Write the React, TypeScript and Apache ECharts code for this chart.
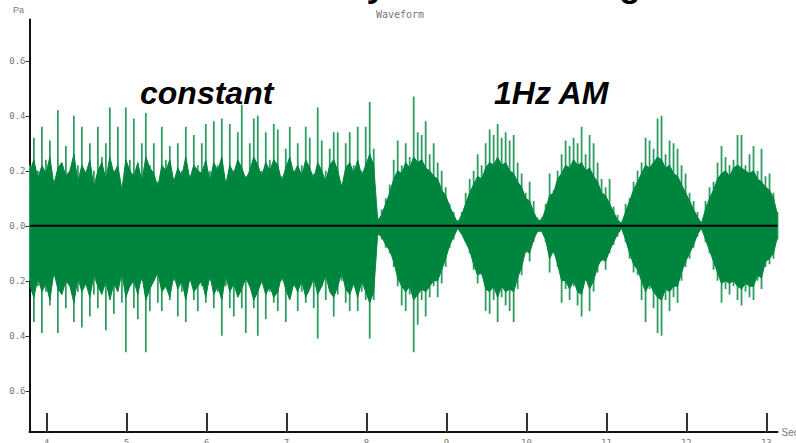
import React, { useEffect, useRef } from "react";
import * as echarts from "echarts";

const sampleStart = 3.79;
const sampleStep = 0.05;

// constant-level noise segment (3.79 s – 8.14 s): spike peaks
const constUpper = [
  0.22, 0.32, 0.2, 0.36, 0.24, 0.31, 0.14, 0.42, 0.2, 0.29,
  0.18, 0.4, 0.22, 0.36, 0.15, 0.3, 0.2, 0.36, 0.25, 0.3,
  0.43, 0.2, 0.36, 0.12, 0.43, 0.24, 0.39, 0.18, 0.3, 0.41,
  0.22, 0.3, 0.16, 0.36, 0.24, 0.29, 0.14, 0.3, 0.2, 0.36,
  0.17, 0.33, 0.22, 0.3, 0.37, 0.2, 0.38, 0.22, 0.39, 0.16,
  0.37, 0.2, 0.34, 0.44, 0.18, 0.3, 0.39, 0.4, 0.2, 0.34,
  0.24, 0.37, 0.35, 0.18, 0.28, 0.36, 0.2, 0.3, 0.22, 0.36,
  0.32, 0.19, 0.43, 0.31, 0.2, 0.28, 0.34, 0.34, 0.15, 0.3,
  0.34, 0.22, 0.36, 0.2, 0.36, 0.45, 0.28, 0.02,
];
const constLower = [
  -0.2, -0.35, -0.22, -0.39, -0.24, -0.29, -0.18, -0.39, -0.22, -0.3,
  -0.2, -0.35, -0.24, -0.37, -0.2, -0.33, -0.25, -0.3, -0.2, -0.38,
  -0.23, -0.32, -0.2, -0.28, -0.46, -0.22, -0.3, -0.34, -0.2, -0.46,
  -0.31, -0.2, -0.28, -0.31, -0.22, -0.27, -0.2, -0.33, -0.24, -0.35,
  -0.2, -0.27, -0.31, -0.22, -0.28, -0.2, -0.3, -0.24, -0.4, -0.22,
  -0.3, -0.33, -0.2, -0.3, -0.39, -0.22, -0.3, -0.4, -0.2, -0.34,
  -0.24, -0.28, -0.31, -0.2, -0.35, -0.25, -0.22, -0.31, -0.24, -0.28,
  -0.2, -0.3, -0.41, -0.22, -0.27, -0.2, -0.33, -0.25, -0.2, -0.28,
  -0.31, -0.2, -0.31, -0.24, -0.27, -0.41, -0.27, -0.03,
];
// constant segment: top / bottom of the solid core
const constCoreUpper = [
  0.2, 0.24, 0.17, 0.22, 0.19, 0.25, 0.15, 0.21, 0.23, 0.18,
  0.2, 0.26, 0.16, 0.22, 0.19, 0.24, 0.14, 0.2, 0.23, 0.17,
  0.25, 0.19, 0.22, 0.13, 0.24, 0.2, 0.18, 0.23, 0.16, 0.25,
  0.21, 0.19, 0.14, 0.22, 0.2, 0.24, 0.16, 0.21, 0.18, 0.25,
  0.17, 0.22, 0.2, 0.19, 0.24, 0.16, 0.23, 0.2, 0.25, 0.15,
  0.22, 0.19, 0.24, 0.21, 0.17, 0.2, 0.25, 0.22, 0.18, 0.23,
  0.2, 0.24, 0.22, 0.16, 0.21, 0.25, 0.19, 0.22, 0.18, 0.24,
  0.21, 0.17, 0.23, 0.2, 0.16, 0.22, 0.24, 0.2, 0.14, 0.21,
  0.23, 0.19, 0.24, 0.18, 0.22, 0.26, 0.22, 0.02,
];
const constCoreLower = [
  -0.22, -0.26, -0.19, -0.24, -0.21, -0.27, -0.17, -0.23, -0.25, -0.2,
  -0.22, -0.28, -0.19, -0.24, -0.21, -0.26, -0.18, -0.22, -0.25, -0.2,
  -0.27, -0.21, -0.24, -0.17, -0.26, -0.22, -0.2, -0.25, -0.18, -0.27,
  -0.23, -0.2, -0.17, -0.24, -0.22, -0.26, -0.18, -0.23, -0.2, -0.27,
  -0.19, -0.24, -0.22, -0.2, -0.26, -0.18, -0.25, -0.22, -0.27, -0.18,
  -0.24, -0.21, -0.26, -0.23, -0.19, -0.22, -0.27, -0.24, -0.2, -0.25,
  -0.22, -0.26, -0.24, -0.18, -0.23, -0.27, -0.21, -0.24, -0.2, -0.26,
  -0.23, -0.19, -0.25, -0.22, -0.18, -0.24, -0.26, -0.22, -0.17, -0.23,
  -0.25, -0.21, -0.26, -0.2, -0.24, -0.28, -0.24, -0.03,
];

// 1 Hz amplitude-modulated segment (8.19 s – 13.14 s): spike peaks
const amUpper = [
  0.06, 0.1, 0.15, 0.24, 0.31, 0.22, 0.3, 0.25, 0.47, 0.34,
  0.33, 0.38, 0.26, 0.3, 0.23, 0.2, 0.14, 0.08, 0.05, 0.02,
  0.05, 0.12, 0.17, 0.2, 0.26, 0.22, 0.3, 0.35, 0.33, 0.37,
  0.32, 0.34, 0.31, 0.33, 0.23, 0.19, 0.12, 0.16, 0.09, 0.03,
  0.03, 0.08, 0.19, 0.13, 0.2, 0.26, 0.31, 0.29, 0.32, 0.3,
  0.36, 0.26, 0.33, 0.3, 0.23, 0.17, 0.14, 0.17, 0.07, 0.04,
  0.01, 0.08, 0.1, 0.16, 0.2, 0.23, 0.32, 0.31, 0.28, 0.39,
  0.4, 0.26, 0.31, 0.3, 0.28, 0.22, 0.19, 0.12, 0.09, 0.05,
  0.01, 0.09, 0.14, 0.16, 0.23, 0.29, 0.25, 0.22, 0.24, 0.33,
  0.33, 0.22, 0.26, 0.29, 0.2, 0.28, 0.18, 0.19, 0.12, 0.05,
];
const amLower = [
  -0.05, -0.08, -0.1, -0.15, -0.22, -0.29, -0.31, -0.25, -0.46, -0.36,
  -0.27, -0.33, -0.26, -0.22, -0.26, -0.21, -0.15, -0.08, -0.05, -0.01,
  -0.03, -0.06, -0.1, -0.16, -0.21, -0.18, -0.31, -0.32, -0.27, -0.35,
  -0.26, -0.29, -0.31, -0.35, -0.23, -0.18, -0.1, -0.13, -0.06, -0.02,
  -0.02, -0.06, -0.17, -0.1, -0.15, -0.28, -0.23, -0.27, -0.22, -0.29,
  -0.33, -0.2, -0.31, -0.24, -0.17, -0.13, -0.16, -0.1, -0.07, -0.04,
  -0.01, -0.06, -0.12, -0.17, -0.18, -0.27, -0.35, -0.23, -0.3, -0.39,
  -0.4, -0.27, -0.31, -0.26, -0.28, -0.2, -0.15, -0.12, -0.08, -0.04,
  -0.01, -0.06, -0.1, -0.16, -0.2, -0.28, -0.23, -0.25, -0.22, -0.27,
  -0.29, -0.24, -0.26, -0.27, -0.2, -0.23, -0.15, -0.14, -0.12, -0.05,
];
// AM segment: top / bottom of the solid core
const amCoreUpper = [
  0.04, 0.08, 0.12, 0.17, 0.2, 0.19, 0.23, 0.21, 0.25, 0.23,
  0.24, 0.21, 0.2, 0.18, 0.17, 0.13, 0.11, 0.07, 0.04, 0.01,
  0.04, 0.08, 0.12, 0.15, 0.18, 0.17, 0.21, 0.23, 0.22, 0.25,
  0.22, 0.23, 0.2, 0.19, 0.16, 0.14, 0.1, 0.09, 0.05, 0.02,
  0.02, 0.06, 0.11, 0.12, 0.17, 0.19, 0.22, 0.21, 0.24, 0.22,
  0.23, 0.2, 0.21, 0.18, 0.16, 0.12, 0.11, 0.08, 0.05, 0.02,
  0.01, 0.05, 0.09, 0.13, 0.16, 0.19, 0.22, 0.21, 0.23, 0.25,
  0.24, 0.21, 0.22, 0.19, 0.18, 0.15, 0.12, 0.09, 0.06, 0.03,
  0.01, 0.06, 0.1, 0.13, 0.17, 0.19, 0.2, 0.18, 0.21, 0.22,
  0.21, 0.2, 0.19, 0.2, 0.17, 0.16, 0.14, 0.13, 0.1, 0.04,
];
const amCoreLower = [
  -0.04, -0.07, -0.09, -0.13, -0.19, -0.22, -0.24, -0.22, -0.27, -0.25,
  -0.23, -0.24, -0.22, -0.2, -0.2, -0.16, -0.12, -0.07, -0.04, -0.01,
  -0.03, -0.06, -0.09, -0.14, -0.18, -0.17, -0.23, -0.24, -0.22, -0.26,
  -0.22, -0.24, -0.23, -0.24, -0.19, -0.15, -0.09, -0.1, -0.05, -0.02,
  -0.02, -0.05, -0.12, -0.09, -0.14, -0.2, -0.2, -0.23, -0.2, -0.24,
  -0.25, -0.19, -0.23, -0.2, -0.15, -0.12, -0.13, -0.09, -0.06, -0.03,
  -0.01, -0.05, -0.1, -0.14, -0.16, -0.2, -0.24, -0.21, -0.24, -0.26,
  -0.27, -0.23, -0.24, -0.22, -0.22, -0.17, -0.13, -0.1, -0.07, -0.03,
  -0.01, -0.05, -0.09, -0.13, -0.17, -0.21, -0.2, -0.21, -0.2, -0.22,
  -0.23, -0.21, -0.22, -0.22, -0.18, -0.19, -0.13, -0.12, -0.1, -0.04,
];

const xTicks = [4, 5, 6, 7, 8, 9, 10, 11, 12, 13];
const yTicks = [-0.6, -0.4, -0.2, 0, 0.2, 0.4, 0.6];
const xRange = [3.785, 13.14];
const yRange = [-0.75, 0.75];
const zeroLine = [
  [3.79, 0],
  [13.14, 0],
];

const annotations = ["constant", "1Hz AM"];
const titleText = "Noise Stimuli: Steady vs. Modulating";
const plotTitle = "Waveform";
const yUnit = "Pa";
const xUnit = "Sec";

const GREEN = "#00853f";
const SPIKE = "#2e9d62";
const LABEL = "#777777";
const MONO = "'DejaVu Sans Mono', monospace";
const SANS = "'Liberation Sans', Arial, sans-serif";

export default function App() {
  const ref = useRef<HTMLDivElement>(null);

  useEffect(() => {
    document.body.style.margin = "0";
    if (!ref.current) return;
    const chart = echarts.init(ref.current, null, { renderer: "svg" });

    const spikeUpper = constUpper.concat(amUpper);
    const spikeLower = constLower.concat(amLower);
    const coreUpper = constCoreUpper.concat(amCoreUpper);
    const coreLower = constCoreLower.concat(amCoreLower);
    const times = spikeUpper.map((_, i) => +(sampleStart + i * sampleStep).toFixed(3));

    const spikeSeries = (vals: number[]) => ({
      type: "bar",
      data: times.map((t, i) => [t, vals[i]]),
      barWidth: 1.8,
      barGap: "-100%",
      silent: true,
      itemStyle: { color: SPIKE },
      z: 1,
    });
    const coreSeries = (vals: number[]) => ({
      type: "line",
      data: times.map((t, i) => [t, vals[i]]),
      symbol: "none",
      silent: true,
      lineStyle: { color: GREEN, width: 1 },
      areaStyle: { color: GREEN, opacity: 1, origin: 0 },
      z: 2,
    });

    chart.setOption({
      animation: false,
      backgroundColor: "#ffffff",
      grid: {
        left: 29.5,
        top: 19.5,
        width: 748,
        height: 412.5,
        containLabel: false,
        outerBoundsMode: "none",
      },
      xAxis: {
        type: "value",
        min: xRange[0],
        max: xRange[1],
        name: xUnit,
        nameLocation: "end",
        nameGap: 4,
        nameTextStyle: { color: LABEL, fontSize: 10, fontFamily: SANS, verticalAlign: "middle" },
        axisLine: { show: true, onZero: false, lineStyle: { color: "#111", width: 2 } },
        axisTick: {
          show: true,
          inside: true,
          length: 19,
          customValues: xTicks,
          lineStyle: { color: "#333", width: 2 },
        },
        axisLabel: {
          customValues: xTicks,
          color: LABEL,
          fontSize: 9,
          fontFamily: MONO,
          margin: 6,
        },
        splitLine: { show: false },
      },
      yAxis: {
        type: "value",
        min: yRange[0],
        max: yRange[1],
        axisLine: { show: true, onZero: false, lineStyle: { color: "#111", width: 2 } },
        axisTick: {
          show: true,
          inside: false,
          length: 4,
          customValues: yTicks,
          lineStyle: { color: "#333", width: 1 },
        },
        axisLabel: {
          customValues: yTicks,
          color: LABEL,
          fontSize: 9,
          fontFamily: MONO,
          margin: 4,
          formatter: (v: number) => Math.abs(v).toFixed(1),
        },
        splitLine: { show: false },
      },
      series: [
        spikeSeries(spikeUpper),
        spikeSeries(spikeLower),
        coreSeries(coreUpper),
        coreSeries(coreLower),
        {
          type: "line",
          data: zeroLine,
          symbol: "none",
          silent: true,
          lineStyle: { color: "#000", width: 2 },
          z: 5,
        },
      ],
      graphic: [
        {
          type: "text",
          left: 28,
          top: -33,
          silent: true,
          style: {
            text: titleText,
            fontSize: 35,
            fontWeight: "bold",
            fontFamily: SANS,
            fill: "#000",
          },
        },
        {
          type: "text",
          x: 13,
          y: 10,
          silent: true,
          style: { text: yUnit, fontSize: 9, fontFamily: SANS, fill: LABEL, verticalAlign: "middle" },
        },
        {
          type: "text",
          x: 400,
          y: 14,
          silent: true,
          style: { text: plotTitle, fontSize: 10, fontFamily: MONO, fill: LABEL, align: "center", verticalAlign: "middle" },
        },
        {
          type: "text",
          x: 140,
          y: 93,
          silent: true,
          style: {
            text: annotations[0],
            fontSize: 32,
            fontWeight: "bold",
            fontStyle: "italic",
            fontFamily: SANS,
            fill: "#000",
            verticalAlign: "middle",
          },
        },
        {
          type: "text",
          x: 494,
          y: 93,
          silent: true,
          style: {
            text: annotations[1],
            fontSize: 32,
            fontWeight: "bold",
            fontStyle: "italic",
            fontFamily: SANS,
            fill: "#000",
            verticalAlign: "middle",
          },
        },
      ],
    });

    return () => chart.dispose();
  }, []);

  return (
    <div
      ref={ref}
      style={{ position: "fixed", left: 0, top: 0, width: 796, height: 443, background: "#fff" }}
    />
  );
}
